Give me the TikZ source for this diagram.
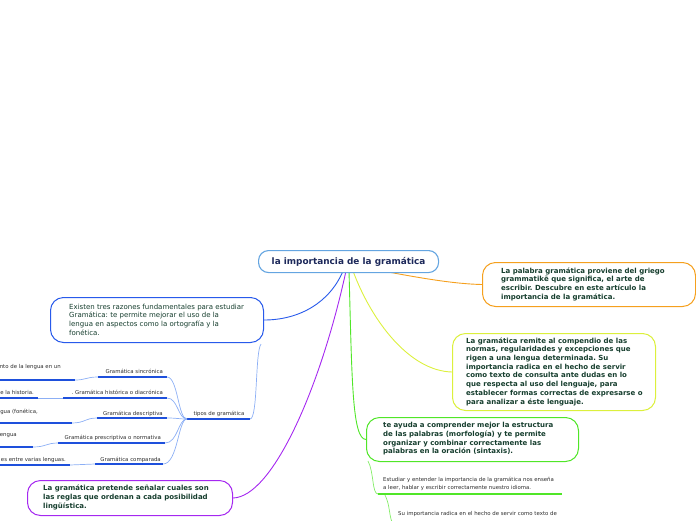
\documentclass[tikz,border=0pt]{standalone}
\usepackage{fontspec}
\setmainfont{DejaVu Sans}
\frenchspacing
\definecolor{txtg}{RGB}{22,62,46}
\definecolor{navy}{RGB}{28,40,90}
\definecolor{cblue}{RGB}{40,90,235}
\definecolor{lblue}{RGB}{140,175,245}
\definecolor{dblue}{RGB}{30,80,220}
\definecolor{corange}{RGB}{245,160,30}
\definecolor{cyellow}{RGB}{220,240,60}
\definecolor{cgreen}{RGB}{80,230,40}
\definecolor{cpurple}{RGB}{165,40,240}
\definecolor{ctitle}{RGB}{100,165,225}
\definecolor{sub}{RGB}{45,45,45}
\pgfdeclarelayer{bg}
\pgfsetlayers{bg,main}
\begin{document}
\begin{tikzpicture}[x=1pt,y=-1pt,
  box/.style={draw, rounded corners=13pt, line width=1pt, fill=white, anchor=north west, inner sep=0pt},
  btext/.style={text=txtg, font=\fontsize{7}{8.7}\selectfont\bfseries\frenchspacing, align=left, anchor=west, inner sep=0pt},
  lab/.style={text=sub, font=\fontsize{5.4}{6}\selectfont, inner sep=0pt},
  ul/.style={dblue, line width=1.3pt},
  thin/.style={lblue, line width=0.7pt},
]
\useasboundingbox (0,0) rectangle (696,520);

% start coordinates under central node
\coordinate (sb) at (343,271);
\coordinate (sp) at (346,271);
\coordinate (sg) at (349,271);
\coordinate (sy) at (353,271);
\coordinate (so) at (383,271);

% boxes
\node[box, draw=corange, minimum width=213, minimum height=44] (orange) at (482,262) {};
\node[btext] (orangetxt) at (501,284)
 {La palabra gramática proviene del griego\\grammatikē que significa, el arte de\\escribir. Descubre en este artículo la\\importancia de la gramática.};
\node[box, draw=cyellow, minimum width=203, minimum height=77] (yellow) at (452,333) {};
\node[btext] (yellowtxt) at (466,371.5)
 {La gramática remite al compendio de las\\normas, regularidades y excepciones que\\rigen a una lengua determinada. Su\\importancia radica en el hecho de servir\\como texto de consulta ante dudas en lo\\que respecta al uso del lenguaje, para\\establecer formas correctas de expresarse o\\para analizar a éste lenguaje.};
\node[box, draw=cgreen, minimum width=212, minimum height=44] (green) at (366,417) {};
\node[btext] (greentxt) at (383,439)
 {te ayuda a comprender mejor la estructura\\de las palabras (morfología) y te permite\\organizar y combinar correctamente las\\palabras en la oración (sintaxis).};
\node[box, draw=cblue, minimum width=213, minimum height=45] (blue) at (50,297) {};
\node[btext, font=\fontsize{7}{8.7}\selectfont\frenchspacing] (bluetxt) at (69,319.5)
 {Existen tres razones fundamentales para estudiar\\Gramática: te permite mejorar el uso de la\\lengua en aspectos como la ortografía y la\\fonética.};
\node[box, draw=cpurple, minimum width=205, minimum height=35] (purple) at (27,480) {};
\node[btext] (purpletxt) at (43,497.5)
 {La gramática pretende señalar cuales son\\las reglas que ordenan a cada posibilidad\\lingüística.};

% central node
\node[draw=ctitle, line width=1.1pt, rounded corners=10pt, fill=white, minimum width=180, minimum height=22,
  text=navy, font=\fontsize{8.9}{10}\selectfont\bfseries, anchor=north west, inner xsep=2pt] (c) at (258,250)
  {la importancia de la gramática};

% main connectors (behind the boxes)
\begin{pgfonlayer}{bg}
\draw[corange, line width=0.9pt] (so) .. controls (420,278) and (455,284) .. (orange.west);
\draw[cyellow, line width=0.9pt] (sy) .. controls (372,322) and (410,371) .. (yellow.west);
\draw[cgreen, line width=0.9pt] (sg) .. controls (352,380) and (352,439) .. (green.west);
\draw[cblue, line width=0.9pt] (sb) .. controls (330,302) and (300,320) .. (blue.east);
\draw[cpurple, line width=0.9pt] (sp) .. controls (320,390) and (272,497) .. (purple.east);
\end{pgfonlayer}

% tipos de gramatica
\node[lab, anchor=base] (tipos) at (219,415) {tipos de gramática};
\coordinate (hub) at (187,419);
\coordinate (tend) at (250,419);
\coordinate (btop) at (261,344);
\draw[thin] (tend) .. controls (258,419) and (255,352) .. (btop);
\draw[ul] (hub) -- (tend);

% sub labels
\node[lab, anchor=base east] (s1) at (163,373) {Gramática sincrónica};
\node[lab, anchor=base east] (s2) at (163,394) {. Gramática histórica o diacrónica};
\node[lab, anchor=base east] (s3) at (163,415) {Gramática descriptiva};
\node[lab, anchor=base east] (s4) at (161,439) {Gramática prescriptiva o normativa};
\node[lab, anchor=base east] (s5) at (161,461) {Gramática comparada};

\coordinate (r1) at (167,377); \coordinate (l1) at (98,377);
\coordinate (r2) at (167,398); \coordinate (l2) at (63,398);
\coordinate (r3) at (167,418); \coordinate (l3) at (97,418);
\coordinate (r4) at (165,443); \coordinate (l4) at (58,443);
\coordinate (r5) at (163,464); \coordinate (l5) at (95,464);

\foreach \r in {r1,r2,r3,r4,r5}{
  \draw[thin] (hub) .. controls (178,419) and (178,0|-\r) .. (\r);
}
\foreach \l/\r in {l1/r1,l2/r2,l3/r3,l4/r4,l5/r5}{ \draw[ul] (\l) -- (\r); }

% cut-off texts on the left
\node[lab, anchor=base east] (t1) at (61,368) {nto de la lengua en un};
\node[lab, anchor=base east] (t2) at (34,394) {e la historia.};
\node[lab, anchor=base east] (t3) at (38,413) {gua (fonética,};
\node[lab, anchor=base east] (t4) at (17,436) {engua};
\node[lab, anchor=base east] (t5) at (66,461) {es entre varias lenguas.};

\coordinate (a1) at (75,380); \coordinate (z1) at (-2,380);
\coordinate (a2) at (38,398); \coordinate (z2) at (-2,398);
\coordinate (a3) at (72,423); \coordinate (z3) at (-2,423);
\coordinate (a4) at (33,447); \coordinate (z4) at (-2,447);
\coordinate (a5) at (70,465); \coordinate (z5) at (-2,465);
\draw[thin] (a1) .. controls (86,380) and (86,377) .. (l1);
\draw[thin] (a2) -- (l2);
\draw[thin] (a3) .. controls (85,423) and (85,418) .. (l3);
\draw[thin] (a4) .. controls (46,447) and (46,443) .. (l4);
\draw[thin] (a5) -- (l5);
\foreach \z/\a in {z1/a1,z2/a2,z3/a3,z4/a4,z5/a5}{ \draw[ul] (\z) -- (\a); }

% green sub branches
\coordinate (g0) at (368,461);
\coordinate (g1) at (378,494);
\coordinate (g2) at (562,494);
\node[lab, anchor=base west, align=left, font=\fontsize{5.4}{8}\selectfont] (e1) at (383,489)
  {Estudiar y entender la importancia de la gramática nos enseña\\a leer, hablar y escribir correctamente nuestro idioma.};
\draw[cgreen!70, line width=0.7pt] (g0) .. controls (374,472) and (372,494) .. (g1);
\draw[cgreen, line width=1.5pt] (g1) -- (g2);
\coordinate (h0) at (385,495);
\coordinate (h1) at (392,522);
\draw[cgreen!70, line width=0.7pt] (h0) .. controls (390,505) and (389,515) .. (h1);
\node[lab, anchor=base west] (e2) at (398,515) {Su importancia radica en el hecho de servir como texto de};
\end{tikzpicture}
\end{document}
